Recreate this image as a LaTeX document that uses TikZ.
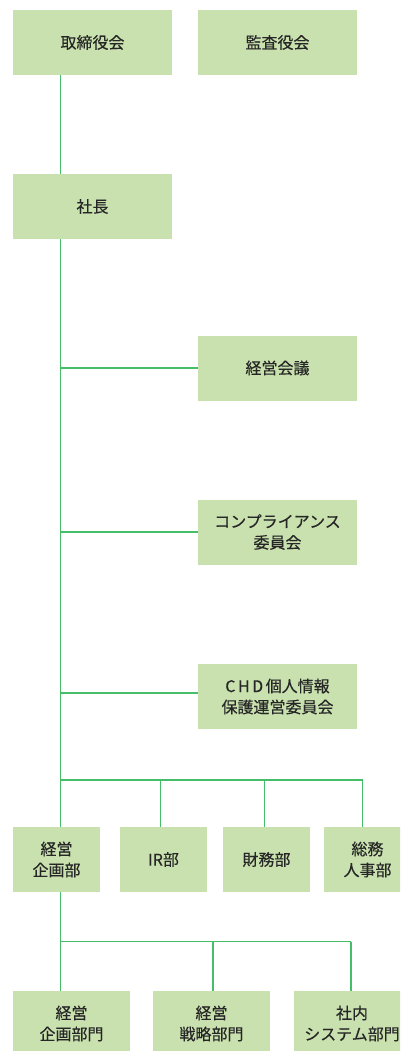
\documentclass[tikz,border=0pt]{standalone}
\usepackage{fontspec}
\setmainfont{Noto Sans CJK JP}[FakeBold=0.3]
\definecolor{boxfill}{RGB}{201,225,174}
\definecolor{linegreen}{RGB}{70,190,105}
\begin{document}
\begin{tikzpicture}[x=1pt,y=-1pt,
  box/.style={fill=boxfill,draw=none,minimum height=65pt,inner sep=0pt,align=center,font=\fontsize{16}{21}\selectfont,text=black!85},
  wide/.style={box,minimum width=159pt},
  mid/.style={box,minimum width=117pt},
  narrow/.style={box,minimum width=87pt},
  conn/.style={draw=linegreen,line width=1.3pt}]
\useasboundingbox (0,0) rectangle (400,1051);
\begin{scope}
\clip (0,0) rectangle (400,1051);
\node[wide] (tori) at (92.5,42.5) {取締役会};
\node[wide] (kansa) at (277.5,42.5) {監査役会};
\node[wide] (shacho) at (92.5,206.5) {社長};
\node[wide] (kaigi) at (277.5,368) {経営会議};
\node[wide] (comp) at (277.5,532) {コンプライアンス\\委員会};
\node[wide] (chd) at (277.5,696.5) {C\kern2.5pt H\kern2.5pt D\kern2.5pt 個人情報\\保護運営委員会};
\node[narrow] (kikaku) at (56.5,859.5) {経営\\企画部};
\node[narrow] (ir) at (163.5,859.5) {IR部};
\node[narrow] (zaimu) at (266.5,859.5) {財務部};
\node[narrow] (somu) at (367.5,859.5) {総務\\人事部};
\node[mid] (kb) at (71.5,1023.5) {経営\\企画部門};
\node[mid] (sb) at (211.5,1023.5) {経営\\戦略部門};
\node[mid] (nb) at (352,1023.5) {社内\\システム部門};

\coordinate (a1) at (60.5,368);
\coordinate (a2) at (60.5,532);
\coordinate (a3) at (60.5,693);
\coordinate (bus1) at (60.5,780);
\coordinate (s1) at (160.5,780);
\coordinate (s2) at (264.5,780);
\coordinate (s3) at (362.5,780);
\coordinate (bus2) at (60.5,941.5);
\coordinate (t1) at (213,941.5);
\coordinate (t2) at (351,941.5);

\draw[conn] (tori.south -| a1) -- (shacho.north -| a1);
\draw[conn] (shacho.south -| a1) -- (kikaku.north -| a1);
\draw[conn] (a1) -- (a1 -| kaigi.west);
\draw[conn] (a2) -- (a2 -| comp.west);
\draw[conn] (a3) -- (a3 -| chd.west);
\draw[conn] (bus1) -- (s3);
\draw[conn] (s1) -- (s1 |- ir.north);
\draw[conn] (s2) -- (s2 |- zaimu.north);
\draw[conn] (s3) -- (s3 |- somu.north);
\draw[conn] (kikaku.south -| bus2) -- (kb.north -| bus2);
\draw[conn] (bus2) -- (t2);
\draw[conn] (t1) -- (t1 |- sb.north);
\draw[conn] (t2) -- (t2 |- nb.north);
\end{scope}
\end{tikzpicture}
\end{document}
